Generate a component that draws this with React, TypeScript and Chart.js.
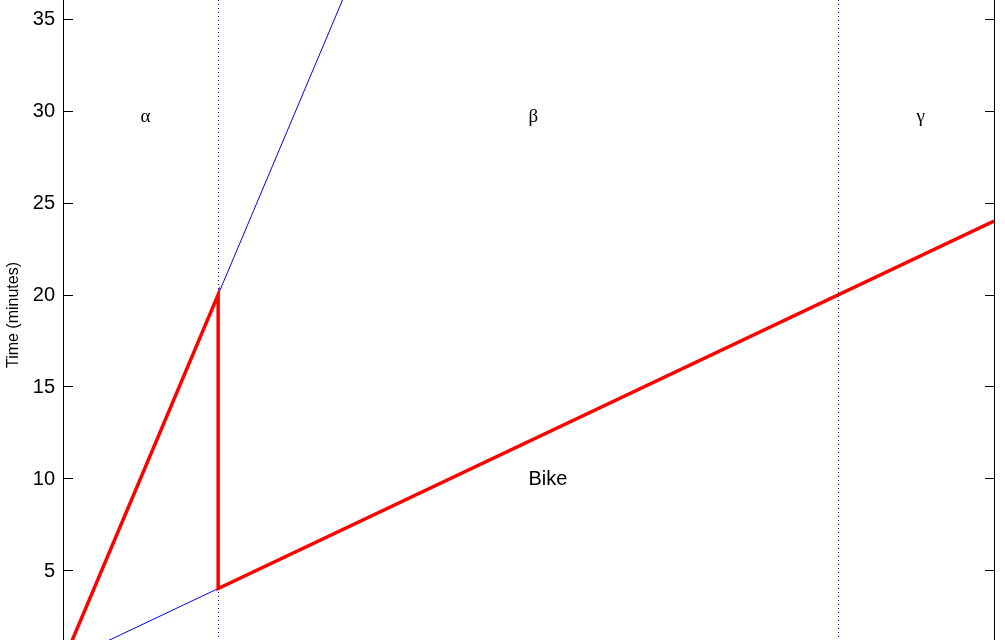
import { useEffect, useRef } from "react"
import { Chart, registerables } from "chart.js"

Chart.register(...registerables)

// axis ranges (x in distance units, y in minutes)
const xMin = 0
const xMax = 6
const yMin = 1.2
const yMax = 36.03
const yTicks = [5, 10, 15, 20, 25, 30, 35]

// walking: 20 min per unit, biking: 4 min per unit
const walkX = [0, 1, 2]
const walkY = [0, 20, 40]
const bikeX = [0, 1, 6]
const bikeY = [0, 4, 24]
// the chosen route (walk, then jump onto the bike)
const routeX = [0, 1, 1, 6]
const routeY = [0, 20, 4, 24]

const zoneEdges = [1, 5]
const zoneNames = ["α", "β", "γ"]
const zoneLabelX = [0.5, 3, 5.5]
const zoneLabelY = 30
const bikeLabel = "Bike"
const bikeLabelX = 3
const bikeLabelY = 10

const toPoints = (xs: number[], ys: number[]) => xs.map((x, i) => ({ x, y: ys[i] }))

// dotted zone borders, snapped to whole pixels so the dots stay crisp blue
const edgesPlugin = {
  id: "zoneEdges",
  beforeDatasetsDraw(chart: Chart) {
    const ctx = chart.ctx
    const { top, bottom } = chart.chartArea
    const xs = chart.scales.x
    ctx.save()
    ctx.fillStyle = "#0000ff"
    zoneEdges.forEach((e) => {
      const px = Math.floor(xs.getPixelForValue(e))
      for (let y = Math.floor(top); y < bottom; y += 4) {
        ctx.fillRect(px, y, 1, 1)
      }
    })
    ctx.restore()
  },
}

const axesPlugin = {
  id: "matlabAxes",
  afterDraw(chart: Chart) {
    const ctx = chart.ctx
    const { left, right, top, bottom } = chart.chartArea
    const xs = chart.scales.x
    const ys = chart.scales.y

    ctx.save()
    ctx.strokeStyle = "#000"
    ctx.lineWidth = 1
    ctx.beginPath()
    ctx.moveTo(Math.round(left) + 0.5, top)
    ctx.lineTo(Math.round(left) + 0.5, bottom)
    ctx.moveTo(Math.round(right) + 0.5, top)
    ctx.lineTo(Math.round(right) + 0.5, bottom)
    yTicks.forEach((v) => {
      const py = Math.round(ys.getPixelForValue(v)) + 0.5
      ctx.moveTo(Math.round(left), py)
      ctx.lineTo(Math.round(left) + 10, py)
      ctx.moveTo(Math.round(right) + 1, py)
      ctx.lineTo(Math.round(right) - 9, py)
    })
    ctx.stroke()

    ctx.fillStyle = "#000"
    ctx.font = "20px 'Liberation Sans', Arial, sans-serif"
    ctx.textAlign = "right"
    ctx.textBaseline = "middle"
    yTicks.forEach((v) => {
      ctx.fillText(String(v), left - 8, ys.getPixelForValue(v) + 1)
    })

    // y label
    ctx.save()
    ctx.font = "16px 'Liberation Sans', Arial, sans-serif"
    ctx.translate(14, 315)
    ctx.rotate(-Math.PI / 2)
    ctx.textAlign = "center"
    ctx.fillText("Time (minutes)", 0, 0)
    ctx.restore()

    // zone letters
    ctx.textAlign = "left"
    ctx.font = "19px 'Liberation Serif', 'DejaVu Serif', serif"
    zoneNames.forEach((name, i) => {
      ctx.fillText(name, xs.getPixelForValue(zoneLabelX[i]), ys.getPixelForValue(zoneLabelY) + 6)
    })

    ctx.font = "20px 'Liberation Sans', Arial, sans-serif"
    ctx.fillText(bikeLabel, xs.getPixelForValue(bikeLabelX), ys.getPixelForValue(bikeLabelY) + 1)
    ctx.restore()
  },
}

export default function App() {
  const chartRef = useRef<HTMLCanvasElement>(null)
  const chartInstance = useRef<Chart | null>(null)

  useEffect(() => {
    if (!chartRef.current) return
    if (chartInstance.current) chartInstance.current.destroy()

    const ctx = chartRef.current.getContext("2d")
    if (!ctx) return

    const blue = "#0000ff"
    const red = "#ff0000"

    chartInstance.current = new Chart(ctx, {
      type: "scatter",
      data: {
        datasets: [
          {
            label: "Route",
            data: toPoints(routeX, routeY),
            showLine: true,
            borderColor: red,
            backgroundColor: red,
            borderWidth: 3.5,
            pointRadius: 0,
            order: 0,
          },
          {
            label: "Walk",
            data: toPoints(walkX, walkY),
            showLine: true,
            borderColor: blue,
            borderWidth: 1,
            pointRadius: 0,
            order: 1,
          },
          {
            label: "Bike",
            data: toPoints(bikeX, bikeY),
            showLine: true,
            borderColor: blue,
            borderWidth: 1,
            pointRadius: 0,
            order: 1,
          },
        ],
      },
      options: {
        responsive: true,
        maintainAspectRatio: false,
        animation: false,
        layout: { padding: { left: 63, right: 11, top: 0, bottom: 0 } },
        plugins: {
          legend: { display: false },
          tooltip: { enabled: false },
        },
        scales: {
          x: { type: "linear", min: xMin, max: xMax, display: false },
          y: { type: "linear", min: yMin, max: yMax, display: false },
        },
      },
      plugins: [edgesPlugin, axesPlugin],
    })

    return () => {
      if (chartInstance.current) {
        chartInstance.current.destroy()
        chartInstance.current = null
      }
    }
  }, [])

  return (
    <div style={{ position: "fixed", left: 0, top: 0, width: 1005, height: 640, background: "#fff" }}>
      <canvas ref={chartRef}></canvas>
    </div>
  )
}
